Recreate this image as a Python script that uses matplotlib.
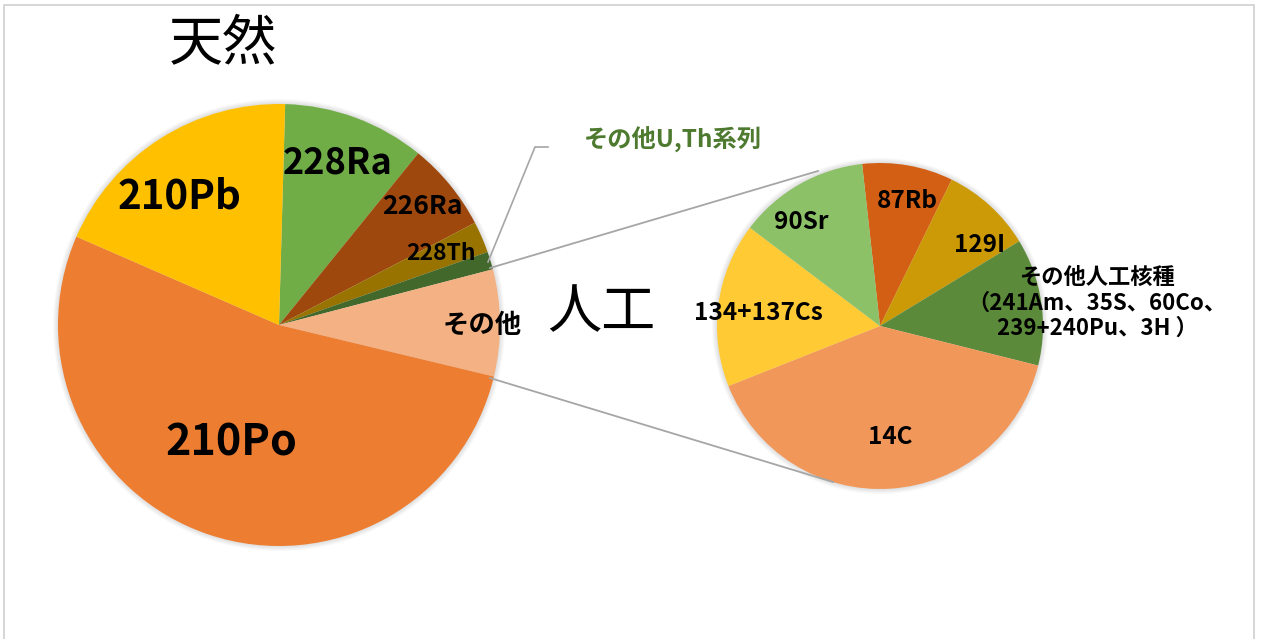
import matplotlib
matplotlib.use('Agg')

from matplotlib import pyplot as plt
from matplotlib.patches import Circle, Rectangle
import numpy as np

plt.rcParams['font.family'] = ['Noto Sans CJK JP', 'DejaVu Sans']

W, H = 1265, 639

# 天然 (natural) nuclides, clockwise from 12 o'clock
nat_labels = ['228Ra', '226Ra', '228Th', 'その他U,Th系列', 'その他', '210Po', '210Pb']
nat_values = [10.4, 6.5, 2.3, 1.3, 7.8, 52.8, 18.9]
nat_colors = ['#70AD47', '#9E480E', '#997300', '#43682B', '#F4B183', '#ED7D31', '#FFC000']

# 人工 (artificial) nuclides, breakdown of the second pie
art_labels = ['87Rb', '129I', 'その他人工核種\n（241Am、35S、60Co、\n239+240Pu、3H ）', '14C', '134+137Cs', '90Sr']
art_values = [9.0, 9.05, 12.6, 40.1, 16.3, 12.95]
art_colors = ['#D35F14', '#CC9A06', '#5B8A3A', '#F1975A', '#FFCA33', '#8CC168']


def Y(y):
    return H - y


fig = plt.figure(figsize=(W / 100, H / 100), dpi=100)
ax = fig.add_axes([0, 0, 1, 1])

# chart frame
ax.add_patch(Rectangle((4, -10), 1250, Y(5) + 10, fill=False, ec='#D0D0D0', lw=1.2))

c1, r1 = (279, Y(325)), 221
c2, r2 = (880, Y(326)), 163


def soft_shadow(c, r):
    for k in range(1, 6):
        ax.add_patch(Circle(c, r + k, color='#000000', alpha=0.025, lw=0, zorder=0))


soft_shadow(c1, r1)
soft_shadow(c2, r2)

ax.pie(nat_values, colors=nat_colors, center=c1, radius=r1, startangle=88.4,
       counterclock=False, wedgeprops=dict(lw=0), frame=True)
ax.pie(art_values, colors=art_colors, center=c2, radius=r2, startangle=96.3,
       counterclock=False, wedgeprops=dict(lw=0), frame=True)
ax.set_xlim(0, W)
ax.set_ylim(0, H)
ax.set_aspect('equal')
ax.axis('off')

# connector lines between the pies
ax.plot([490, 818], [Y(268), Y(171)], color='#A6A6A6', lw=1.3)
ax.plot([490, 833], [Y(378), Y(482)], color='#A6A6A6', lw=1.3)
# leader line for the thin slice
ax.plot([488, 535, 548], [Y(262), Y(147), Y(147)], color='#A6A6A6', lw=1.2)

bold = dict(fontweight='bold', ha='center', va='center', color='black')
ax.text(180, Y(197), '210Pb', fontsize=29, **bold)
ax.text(338, Y(163), '228Ra', fontsize=26, **bold)
ax.text(422, Y(207), '226Ra', fontsize=19, **bold)
ax.text(441, Y(253), '228Th', fontsize=16.5, **bold)
ax.text(482, Y(325), nat_labels[4], fontsize=19, **bold)
ax.text(231, Y(443), '210Po', fontsize=31, **bold)
ax.text(673, Y(140), nat_labels[3], fontsize=17.5, fontweight='bold',
        ha='center', va='center', color='#4E7A30')

ax.text(801, Y(222), '90Sr', fontsize=17.5, **bold)
ax.text(907, Y(201), '87Rb', fontsize=17.5, **bold)
ax.text(980, Y(245), '129I', fontsize=17.5, **bold)
ax.text(758, Y(313), '134+137Cs', fontsize=17.5, **bold)
ax.text(890, Y(437), '14C', fontsize=17.5, **bold)
ax.text(1097, Y(303), art_labels[2], fontsize=16, linespacing=1.15, **bold)

ax.text(223, Y(45), '天然', fontsize=39, ha='center', va='center', color='black')
ax.text(601, Y(313), '人工', fontsize=39, ha='center', va='center', color='black')

fig.savefig('out.png', dpi=100)
